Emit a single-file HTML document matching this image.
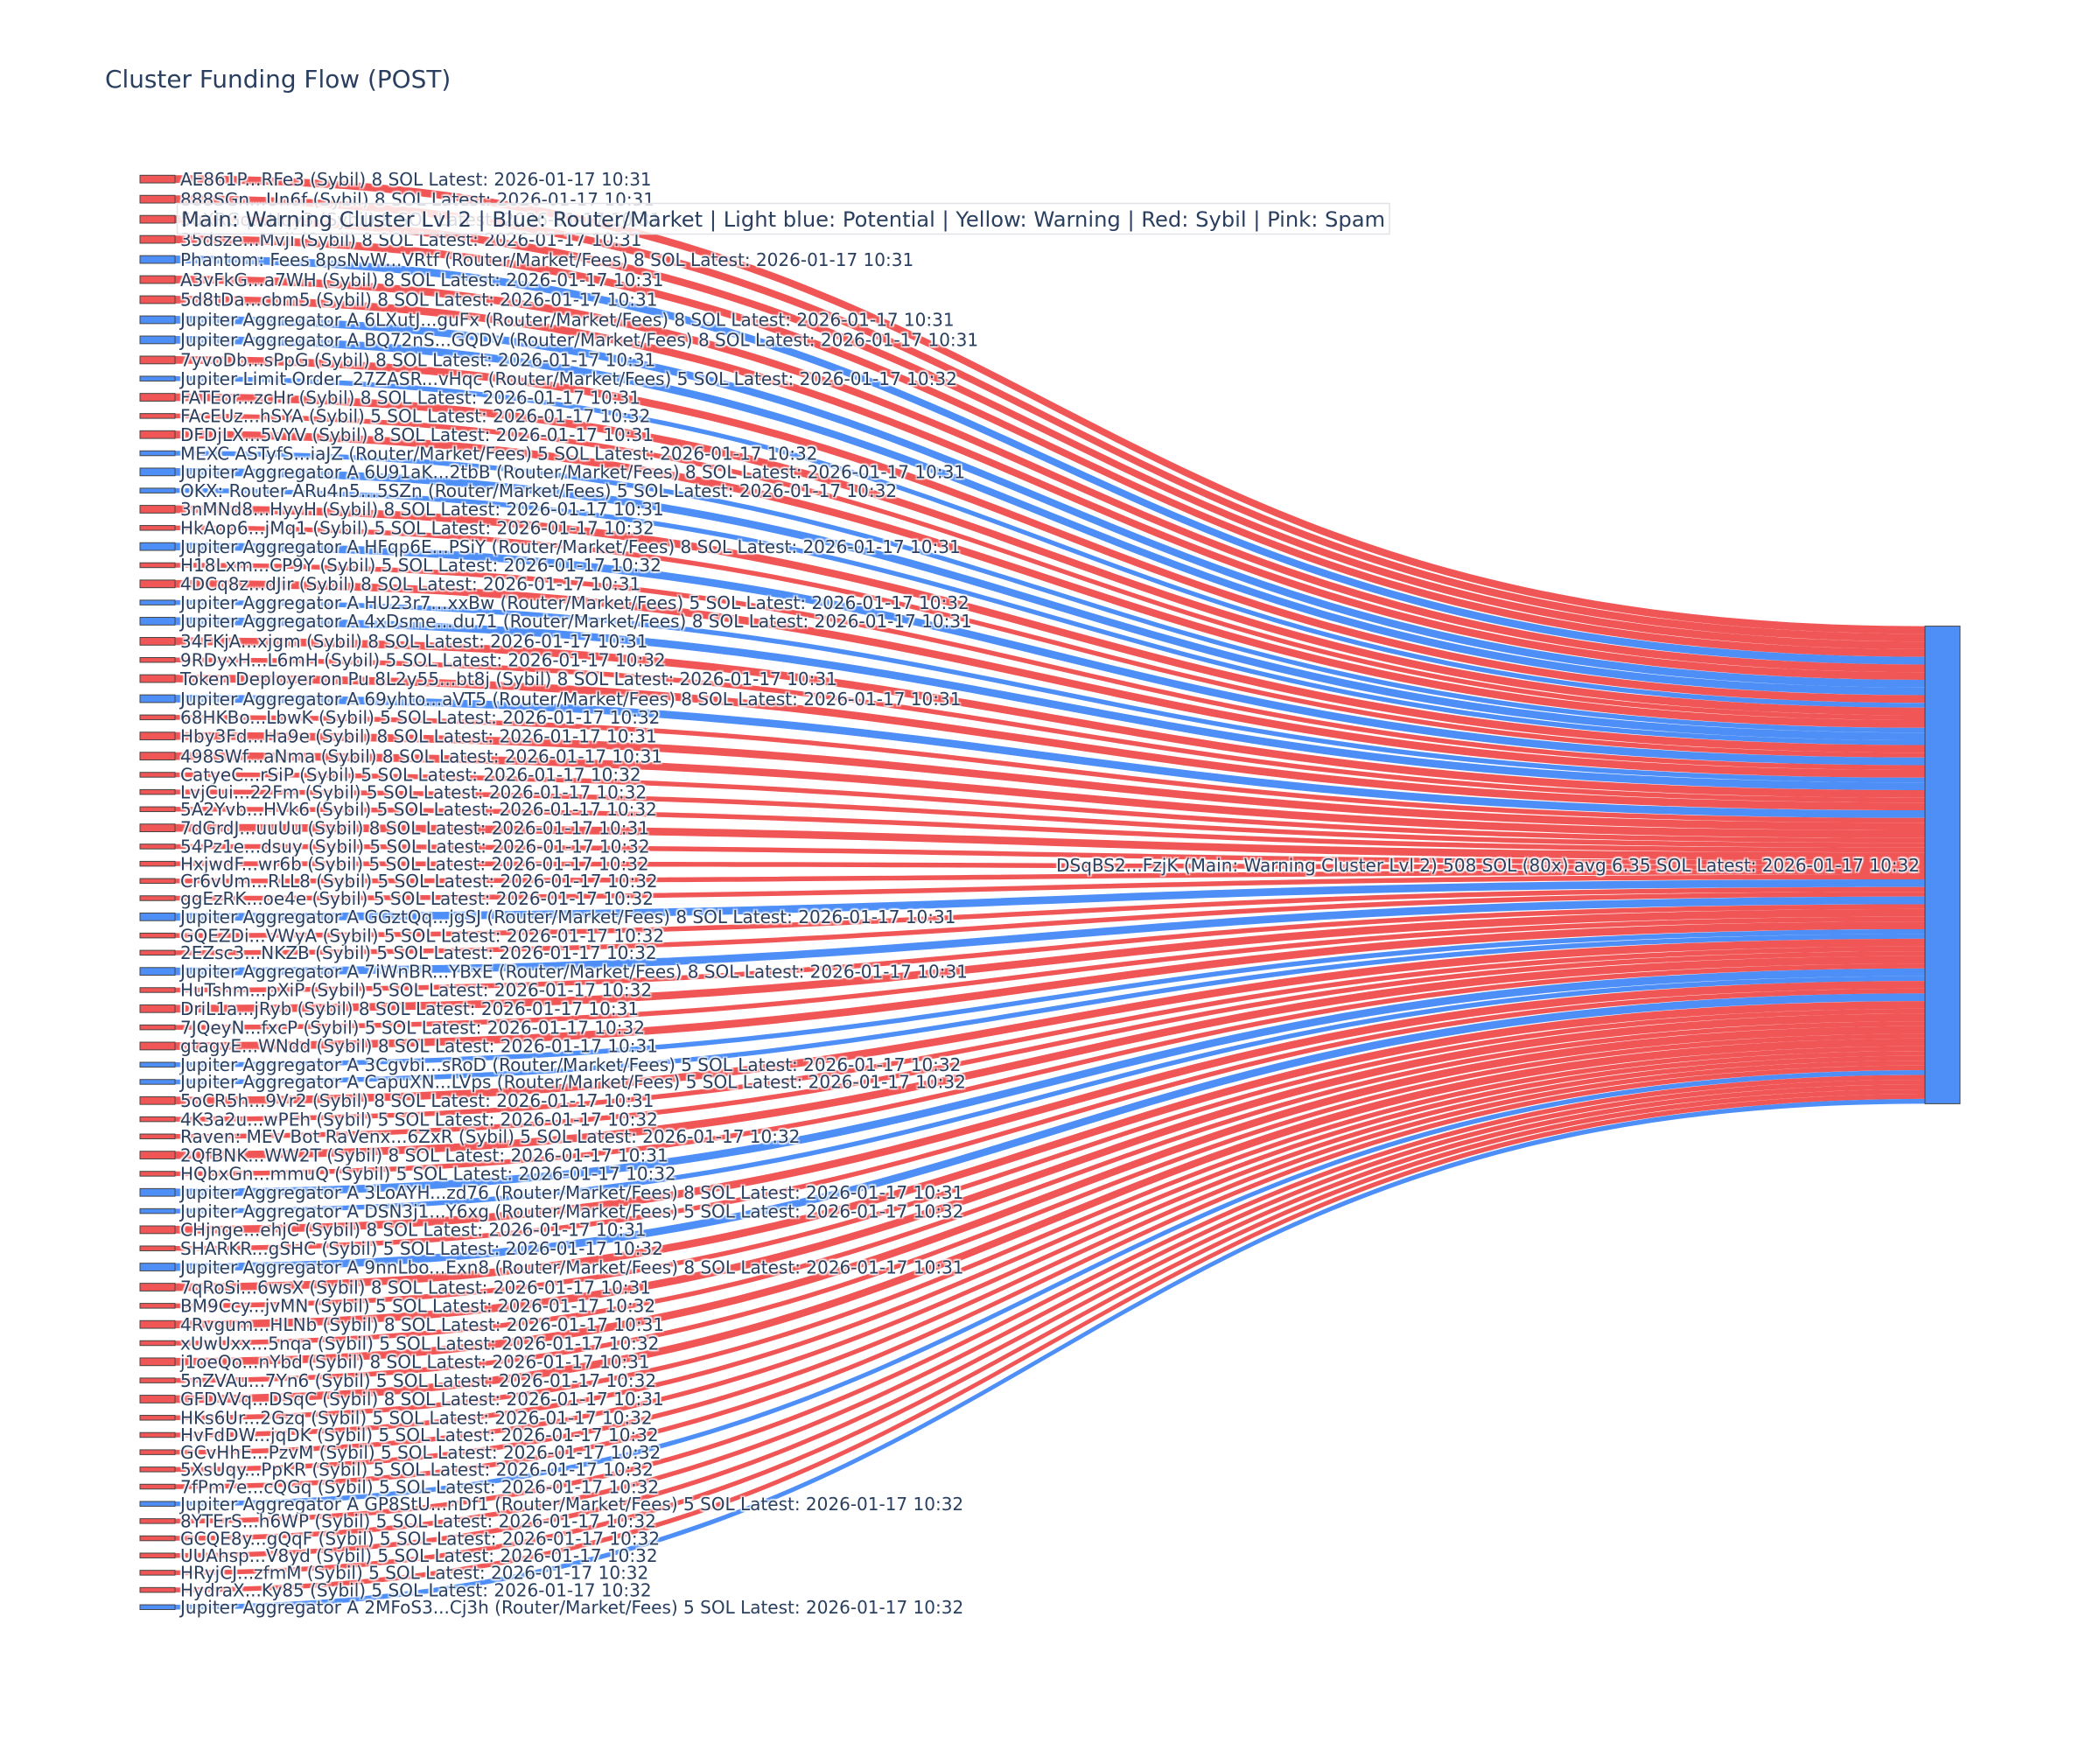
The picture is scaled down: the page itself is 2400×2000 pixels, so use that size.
<!DOCTYPE html>
<html><head><meta charset="utf-8"><style>
html,body{margin:0;padding:0;background:#fff;}
svg{display:block;}
.r{fill:rgba(239,68,68,0.9);}
.b{fill:rgba(59,130,246,0.9);}
.n rect{stroke:#444;stroke-width:1;}
.t{font-family:"DejaVu Sans","Liberation Sans",sans-serif;font-size:20px;fill:#2a3f5f;white-space:pre;text-shadow:1.5px 1.5px 1.5px #fff,-1.5px -1.5px 1.5px #fff,1.5px -1.5px 1.5px #fff,-1.5px 1.5px 1.5px #fff;}
.title{font-family:"DejaVu Sans","Liberation Sans",sans-serif;font-size:27.9px;fill:#2a3f5f;}
.leg{font-family:"DejaVu Sans","Liberation Sans",sans-serif;font-size:24.2px;fill:#2a3f5f;white-space:pre;}
</style></head><body>
<svg width="2400" height="2000" viewBox="0 0 2400 2000" xmlns="http://www.w3.org/2000/svg">
<rect width="2400" height="2000" fill="#fff"/>
<text class="title" x="120" y="100">Cluster Funding Flow (POST)</text>
<g>
<path class="r" d="M200,200.30C1200,200.30 1200,715.60 2200,715.60L2200,724.37C1200,724.37 1200,209.07 200,209.07Z"/>
<path class="r" d="M200,223.27C1200,223.27 1200,724.37 2200,724.37L2200,733.14C1200,733.14 1200,232.04 200,232.04Z"/>
<path class="r" d="M200,246.24C1200,246.24 1200,733.14 2200,733.14L2200,741.90C1200,741.90 1200,255.00 200,255.00Z"/>
<path class="r" d="M200,269.20C1200,269.20 1200,741.90 2200,741.90L2200,750.67C1200,750.67 1200,277.97 200,277.97Z"/>
<path class="b" d="M200,292.17C1200,292.17 1200,750.67 2200,750.67L2200,759.44C1200,759.44 1200,300.94 200,300.94Z"/>
<path class="r" d="M200,315.14C1200,315.14 1200,759.44 2200,759.44L2200,768.21C1200,768.21 1200,323.91 200,323.91Z"/>
<path class="r" d="M200,338.11C1200,338.11 1200,768.21 2200,768.21L2200,776.98C1200,776.98 1200,346.88 200,346.88Z"/>
<path class="b" d="M200,361.08C1200,361.08 1200,776.98 2200,776.98L2200,785.74C1200,785.74 1200,369.84 200,369.84Z"/>
<path class="b" d="M200,384.04C1200,384.04 1200,785.74 2200,785.74L2200,794.51C1200,794.51 1200,392.81 200,392.81Z"/>
<path class="r" d="M200,407.01C1200,407.01 1200,794.51 2200,794.51L2200,803.28C1200,803.28 1200,415.78 200,415.78Z"/>
<path class="b" d="M200,429.98C1200,429.98 1200,803.28 2200,803.28L2200,808.76C1200,808.76 1200,435.46 200,435.46Z"/>
<path class="r" d="M200,449.66C1200,449.66 1200,808.76 2200,808.76L2200,817.53C1200,817.53 1200,458.43 200,458.43Z"/>
<path class="r" d="M200,472.63C1200,472.63 1200,817.53 2200,817.53L2200,823.01C1200,823.01 1200,478.11 200,478.11Z"/>
<path class="r" d="M200,492.31C1200,492.31 1200,823.01 2200,823.01L2200,831.78C1200,831.78 1200,501.08 200,501.08Z"/>
<path class="b" d="M200,515.28C1200,515.28 1200,831.78 2200,831.78L2200,837.26C1200,837.26 1200,520.76 200,520.76Z"/>
<path class="b" d="M200,534.96C1200,534.96 1200,837.26 2200,837.26L2200,846.02C1200,846.02 1200,543.72 200,543.72Z"/>
<path class="b" d="M200,557.92C1200,557.92 1200,846.02 2200,846.02L2200,851.50C1200,851.50 1200,563.40 200,563.40Z"/>
<path class="r" d="M200,577.60C1200,577.60 1200,851.50 2200,851.50L2200,860.27C1200,860.27 1200,586.37 200,586.37Z"/>
<path class="r" d="M200,600.57C1200,600.57 1200,860.27 2200,860.27L2200,865.75C1200,865.75 1200,606.05 200,606.05Z"/>
<path class="b" d="M200,620.25C1200,620.25 1200,865.75 2200,865.75L2200,874.52C1200,874.52 1200,629.02 200,629.02Z"/>
<path class="r" d="M200,643.22C1200,643.22 1200,874.52 2200,874.52L2200,880.00C1200,880.00 1200,648.70 200,648.70Z"/>
<path class="r" d="M200,662.90C1200,662.90 1200,880.00 2200,880.00L2200,888.77C1200,888.77 1200,671.67 200,671.67Z"/>
<path class="b" d="M200,685.87C1200,685.87 1200,888.77 2200,888.77L2200,894.25C1200,894.25 1200,691.35 200,691.35Z"/>
<path class="b" d="M200,705.55C1200,705.55 1200,894.25 2200,894.25L2200,903.02C1200,903.02 1200,714.32 200,714.32Z"/>
<path class="r" d="M200,728.52C1200,728.52 1200,903.02 2200,903.02L2200,911.78C1200,911.78 1200,737.28 200,737.28Z"/>
<path class="r" d="M200,751.48C1200,751.48 1200,911.78 2200,911.78L2200,917.26C1200,917.26 1200,756.96 200,756.96Z"/>
<path class="r" d="M200,771.16C1200,771.16 1200,917.26 2200,917.26L2200,926.03C1200,926.03 1200,779.93 200,779.93Z"/>
<path class="b" d="M200,794.13C1200,794.13 1200,926.03 2200,926.03L2200,934.80C1200,934.80 1200,802.90 200,802.90Z"/>
<path class="r" d="M200,817.10C1200,817.10 1200,934.80 2200,934.80L2200,940.28C1200,940.28 1200,822.58 200,822.58Z"/>
<path class="r" d="M200,836.78C1200,836.78 1200,940.28 2200,940.28L2200,949.05C1200,949.05 1200,845.55 200,845.55Z"/>
<path class="r" d="M200,859.75C1200,859.75 1200,949.05 2200,949.05L2200,957.82C1200,957.82 1200,868.52 200,868.52Z"/>
<path class="r" d="M200,882.72C1200,882.72 1200,957.82 2200,957.82L2200,963.30C1200,963.30 1200,888.20 200,888.20Z"/>
<path class="r" d="M200,902.40C1200,902.40 1200,963.30 2200,963.30L2200,968.78C1200,968.78 1200,907.88 200,907.88Z"/>
<path class="r" d="M200,922.08C1200,922.08 1200,968.78 2200,968.78L2200,974.26C1200,974.26 1200,927.56 200,927.56Z"/>
<path class="r" d="M200,941.76C1200,941.76 1200,974.26 2200,974.26L2200,983.02C1200,983.02 1200,950.52 200,950.52Z"/>
<path class="r" d="M200,964.72C1200,964.72 1200,983.02 2200,983.02L2200,988.50C1200,988.50 1200,970.20 200,970.20Z"/>
<path class="r" d="M200,984.40C1200,984.40 1200,988.50 2200,988.50L2200,993.98C1200,993.98 1200,989.88 200,989.88Z"/>
<path class="r" d="M200,1004.08C1200,1004.08 1200,993.98 2200,993.98L2200,999.46C1200,999.46 1200,1009.56 200,1009.56Z"/>
<path class="r" d="M200,1023.76C1200,1023.76 1200,999.46 2200,999.46L2200,1004.94C1200,1004.94 1200,1029.24 200,1029.24Z"/>
<path class="b" d="M200,1043.44C1200,1043.44 1200,1004.94 2200,1004.94L2200,1013.71C1200,1013.71 1200,1052.21 200,1052.21Z"/>
<path class="r" d="M200,1066.41C1200,1066.41 1200,1013.71 2200,1013.71L2200,1019.19C1200,1019.19 1200,1071.89 200,1071.89Z"/>
<path class="r" d="M200,1086.09C1200,1086.09 1200,1019.19 2200,1019.19L2200,1024.67C1200,1024.67 1200,1091.57 200,1091.57Z"/>
<path class="b" d="M200,1105.77C1200,1105.77 1200,1024.67 2200,1024.67L2200,1033.44C1200,1033.44 1200,1114.54 200,1114.54Z"/>
<path class="r" d="M200,1128.74C1200,1128.74 1200,1033.44 2200,1033.44L2200,1038.92C1200,1038.92 1200,1134.22 200,1134.22Z"/>
<path class="r" d="M200,1148.42C1200,1148.42 1200,1038.92 2200,1038.92L2200,1047.69C1200,1047.69 1200,1157.19 200,1157.19Z"/>
<path class="r" d="M200,1171.39C1200,1171.39 1200,1047.69 2200,1047.69L2200,1053.17C1200,1053.17 1200,1176.87 200,1176.87Z"/>
<path class="r" d="M200,1191.07C1200,1191.07 1200,1053.17 2200,1053.17L2200,1061.94C1200,1061.94 1200,1199.84 200,1199.84Z"/>
<path class="b" d="M200,1214.04C1200,1214.04 1200,1061.94 2200,1061.94L2200,1067.42C1200,1067.42 1200,1219.52 200,1219.52Z"/>
<path class="b" d="M200,1233.72C1200,1233.72 1200,1067.42 2200,1067.42L2200,1072.90C1200,1072.90 1200,1239.20 200,1239.20Z"/>
<path class="r" d="M200,1253.40C1200,1253.40 1200,1072.90 2200,1072.90L2200,1081.66C1200,1081.66 1200,1262.16 200,1262.16Z"/>
<path class="r" d="M200,1276.36C1200,1276.36 1200,1081.66 2200,1081.66L2200,1087.14C1200,1087.14 1200,1281.84 200,1281.84Z"/>
<path class="r" d="M200,1296.04C1200,1296.04 1200,1087.14 2200,1087.14L2200,1092.62C1200,1092.62 1200,1301.52 200,1301.52Z"/>
<path class="r" d="M200,1315.72C1200,1315.72 1200,1092.62 2200,1092.62L2200,1101.39C1200,1101.39 1200,1324.49 200,1324.49Z"/>
<path class="r" d="M200,1338.69C1200,1338.69 1200,1101.39 2200,1101.39L2200,1106.87C1200,1106.87 1200,1344.17 200,1344.17Z"/>
<path class="b" d="M200,1358.37C1200,1358.37 1200,1106.87 2200,1106.87L2200,1115.64C1200,1115.64 1200,1367.14 200,1367.14Z"/>
<path class="b" d="M200,1381.34C1200,1381.34 1200,1115.64 2200,1115.64L2200,1121.12C1200,1121.12 1200,1386.82 200,1386.82Z"/>
<path class="r" d="M200,1401.02C1200,1401.02 1200,1121.12 2200,1121.12L2200,1129.89C1200,1129.89 1200,1409.79 200,1409.79Z"/>
<path class="r" d="M200,1423.99C1200,1423.99 1200,1129.89 2200,1129.89L2200,1135.37C1200,1135.37 1200,1429.47 200,1429.47Z"/>
<path class="b" d="M200,1443.67C1200,1443.67 1200,1135.37 2200,1135.37L2200,1144.14C1200,1144.14 1200,1452.44 200,1452.44Z"/>
<path class="r" d="M200,1466.64C1200,1466.64 1200,1144.14 2200,1144.14L2200,1152.90C1200,1152.90 1200,1475.40 200,1475.40Z"/>
<path class="r" d="M200,1489.60C1200,1489.60 1200,1152.90 2200,1152.90L2200,1158.38C1200,1158.38 1200,1495.08 200,1495.08Z"/>
<path class="r" d="M200,1509.28C1200,1509.28 1200,1158.38 2200,1158.38L2200,1167.15C1200,1167.15 1200,1518.05 200,1518.05Z"/>
<path class="r" d="M200,1532.25C1200,1532.25 1200,1167.15 2200,1167.15L2200,1172.63C1200,1172.63 1200,1537.73 200,1537.73Z"/>
<path class="r" d="M200,1551.93C1200,1551.93 1200,1172.63 2200,1172.63L2200,1181.40C1200,1181.40 1200,1560.70 200,1560.70Z"/>
<path class="r" d="M200,1574.90C1200,1574.90 1200,1181.40 2200,1181.40L2200,1186.88C1200,1186.88 1200,1580.38 200,1580.38Z"/>
<path class="r" d="M200,1594.58C1200,1594.58 1200,1186.88 2200,1186.88L2200,1195.65C1200,1195.65 1200,1603.35 200,1603.35Z"/>
<path class="r" d="M200,1617.55C1200,1617.55 1200,1195.65 2200,1195.65L2200,1201.13C1200,1201.13 1200,1623.03 200,1623.03Z"/>
<path class="r" d="M200,1637.23C1200,1637.23 1200,1201.13 2200,1201.13L2200,1206.61C1200,1206.61 1200,1642.71 200,1642.71Z"/>
<path class="r" d="M200,1656.91C1200,1656.91 1200,1206.61 2200,1206.61L2200,1212.09C1200,1212.09 1200,1662.39 200,1662.39Z"/>
<path class="r" d="M200,1676.59C1200,1676.59 1200,1212.09 2200,1212.09L2200,1217.57C1200,1217.57 1200,1682.07 200,1682.07Z"/>
<path class="r" d="M200,1696.27C1200,1696.27 1200,1217.57 2200,1217.57L2200,1223.05C1200,1223.05 1200,1701.75 200,1701.75Z"/>
<path class="b" d="M200,1715.95C1200,1715.95 1200,1223.05 2200,1223.05L2200,1228.53C1200,1228.53 1200,1721.43 200,1721.43Z"/>
<path class="r" d="M200,1735.63C1200,1735.63 1200,1228.53 2200,1228.53L2200,1234.01C1200,1234.01 1200,1741.11 200,1741.11Z"/>
<path class="r" d="M200,1755.31C1200,1755.31 1200,1234.01 2200,1234.01L2200,1239.49C1200,1239.49 1200,1760.79 200,1760.79Z"/>
<path class="r" d="M200,1774.99C1200,1774.99 1200,1239.49 2200,1239.49L2200,1244.97C1200,1244.97 1200,1780.47 200,1780.47Z"/>
<path class="r" d="M200,1794.67C1200,1794.67 1200,1244.97 2200,1244.97L2200,1250.45C1200,1250.45 1200,1800.15 200,1800.15Z"/>
<path class="r" d="M200,1814.35C1200,1814.35 1200,1250.45 2200,1250.45L2200,1255.93C1200,1255.93 1200,1819.83 200,1819.83Z"/>
<path class="b" d="M200,1834.03C1200,1834.03 1200,1255.93 2200,1255.93L2200,1261.41C1200,1261.41 1200,1839.51 200,1839.51Z"/>
</g>
<g class="n">
<rect class="r" x="160" y="200.30" width="40" height="8.77"/>
<rect class="r" x="160" y="223.27" width="40" height="8.77"/>
<rect class="r" x="160" y="246.24" width="40" height="8.77"/>
<rect class="r" x="160" y="269.20" width="40" height="8.77"/>
<rect class="b" x="160" y="292.17" width="40" height="8.77"/>
<rect class="r" x="160" y="315.14" width="40" height="8.77"/>
<rect class="r" x="160" y="338.11" width="40" height="8.77"/>
<rect class="b" x="160" y="361.08" width="40" height="8.77"/>
<rect class="b" x="160" y="384.04" width="40" height="8.77"/>
<rect class="r" x="160" y="407.01" width="40" height="8.77"/>
<rect class="b" x="160" y="429.98" width="40" height="5.48"/>
<rect class="r" x="160" y="449.66" width="40" height="8.77"/>
<rect class="r" x="160" y="472.63" width="40" height="5.48"/>
<rect class="r" x="160" y="492.31" width="40" height="8.77"/>
<rect class="b" x="160" y="515.28" width="40" height="5.48"/>
<rect class="b" x="160" y="534.96" width="40" height="8.77"/>
<rect class="b" x="160" y="557.92" width="40" height="5.48"/>
<rect class="r" x="160" y="577.60" width="40" height="8.77"/>
<rect class="r" x="160" y="600.57" width="40" height="5.48"/>
<rect class="b" x="160" y="620.25" width="40" height="8.77"/>
<rect class="r" x="160" y="643.22" width="40" height="5.48"/>
<rect class="r" x="160" y="662.90" width="40" height="8.77"/>
<rect class="b" x="160" y="685.87" width="40" height="5.48"/>
<rect class="b" x="160" y="705.55" width="40" height="8.77"/>
<rect class="r" x="160" y="728.52" width="40" height="8.77"/>
<rect class="r" x="160" y="751.48" width="40" height="5.48"/>
<rect class="r" x="160" y="771.16" width="40" height="8.77"/>
<rect class="b" x="160" y="794.13" width="40" height="8.77"/>
<rect class="r" x="160" y="817.10" width="40" height="5.48"/>
<rect class="r" x="160" y="836.78" width="40" height="8.77"/>
<rect class="r" x="160" y="859.75" width="40" height="8.77"/>
<rect class="r" x="160" y="882.72" width="40" height="5.48"/>
<rect class="r" x="160" y="902.40" width="40" height="5.48"/>
<rect class="r" x="160" y="922.08" width="40" height="5.48"/>
<rect class="r" x="160" y="941.76" width="40" height="8.77"/>
<rect class="r" x="160" y="964.72" width="40" height="5.48"/>
<rect class="r" x="160" y="984.40" width="40" height="5.48"/>
<rect class="r" x="160" y="1004.08" width="40" height="5.48"/>
<rect class="r" x="160" y="1023.76" width="40" height="5.48"/>
<rect class="b" x="160" y="1043.44" width="40" height="8.77"/>
<rect class="r" x="160" y="1066.41" width="40" height="5.48"/>
<rect class="r" x="160" y="1086.09" width="40" height="5.48"/>
<rect class="b" x="160" y="1105.77" width="40" height="8.77"/>
<rect class="r" x="160" y="1128.74" width="40" height="5.48"/>
<rect class="r" x="160" y="1148.42" width="40" height="8.77"/>
<rect class="r" x="160" y="1171.39" width="40" height="5.48"/>
<rect class="r" x="160" y="1191.07" width="40" height="8.77"/>
<rect class="b" x="160" y="1214.04" width="40" height="5.48"/>
<rect class="b" x="160" y="1233.72" width="40" height="5.48"/>
<rect class="r" x="160" y="1253.40" width="40" height="8.77"/>
<rect class="r" x="160" y="1276.36" width="40" height="5.48"/>
<rect class="r" x="160" y="1296.04" width="40" height="5.48"/>
<rect class="r" x="160" y="1315.72" width="40" height="8.77"/>
<rect class="r" x="160" y="1338.69" width="40" height="5.48"/>
<rect class="b" x="160" y="1358.37" width="40" height="8.77"/>
<rect class="b" x="160" y="1381.34" width="40" height="5.48"/>
<rect class="r" x="160" y="1401.02" width="40" height="8.77"/>
<rect class="r" x="160" y="1423.99" width="40" height="5.48"/>
<rect class="b" x="160" y="1443.67" width="40" height="8.77"/>
<rect class="r" x="160" y="1466.64" width="40" height="8.77"/>
<rect class="r" x="160" y="1489.60" width="40" height="5.48"/>
<rect class="r" x="160" y="1509.28" width="40" height="8.77"/>
<rect class="r" x="160" y="1532.25" width="40" height="5.48"/>
<rect class="r" x="160" y="1551.93" width="40" height="8.77"/>
<rect class="r" x="160" y="1574.90" width="40" height="5.48"/>
<rect class="r" x="160" y="1594.58" width="40" height="8.77"/>
<rect class="r" x="160" y="1617.55" width="40" height="5.48"/>
<rect class="r" x="160" y="1637.23" width="40" height="5.48"/>
<rect class="r" x="160" y="1656.91" width="40" height="5.48"/>
<rect class="r" x="160" y="1676.59" width="40" height="5.48"/>
<rect class="r" x="160" y="1696.27" width="40" height="5.48"/>
<rect class="b" x="160" y="1715.95" width="40" height="5.48"/>
<rect class="r" x="160" y="1735.63" width="40" height="5.48"/>
<rect class="r" x="160" y="1755.31" width="40" height="5.48"/>
<rect class="r" x="160" y="1774.99" width="40" height="5.48"/>
<rect class="r" x="160" y="1794.67" width="40" height="5.48"/>
<rect class="r" x="160" y="1814.35" width="40" height="5.48"/>
<rect class="b" x="160" y="1834.03" width="40" height="5.48"/>
<rect class="b" x="2200" y="715.60" width="40" height="545.81"/>
</g>
<g>
<text class="t" x="206" y="211.93">AE861P...RFe3 (Sybil) 8 SOL Latest: 2026-01-17 10:31</text>
<text class="t" x="206" y="234.90">888SGn...Un6f (Sybil) 8 SOL Latest: 2026-01-17 10:31</text>
<text class="t" x="206" y="257.87">5uXRGq...Hqy3 (Sybil) 8 SOL Latest: 2026-01-17 10:31</text>
<text class="t" x="206" y="280.83">35dsze...Mvji (Sybil) 8 SOL Latest: 2026-01-17 10:31</text>
<text class="t" x="206" y="303.80">Phantom: Fees 8psNvW...VRtf (Router/Market/Fees) 8 SOL Latest: 2026-01-17 10:31</text>
<text class="t" x="206" y="326.77">A3vFkG...a7WH (Sybil) 8 SOL Latest: 2026-01-17 10:31</text>
<text class="t" x="206" y="349.74">5d8tDa...cbm5 (Sybil) 8 SOL Latest: 2026-01-17 10:31</text>
<text class="t" x="206" y="372.71">Jupiter Aggregator A 6LXutJ...guFx (Router/Market/Fees) 8 SOL Latest: 2026-01-17 10:31</text>
<text class="t" x="206" y="395.67">Jupiter Aggregator A BQ72nS...GQDV (Router/Market/Fees) 8 SOL Latest: 2026-01-17 10:31</text>
<text class="t" x="206" y="418.64">7yvoDb...sPpG (Sybil) 8 SOL Latest: 2026-01-17 10:31</text>
<text class="t" x="206" y="439.98">Jupiter Limit Order  27ZASR...vHqc (Router/Market/Fees) 5 SOL Latest: 2026-01-17 10:32</text>
<text class="t" x="206" y="461.29">FATEor...zcHr (Sybil) 8 SOL Latest: 2026-01-17 10:31</text>
<text class="t" x="206" y="482.63">FAcEUz...hSYA (Sybil) 5 SOL Latest: 2026-01-17 10:32</text>
<text class="t" x="206" y="503.94">DFDjLX...5VYV (Sybil) 8 SOL Latest: 2026-01-17 10:31</text>
<text class="t" x="206" y="525.28">MEXC ASTyfS...iaJZ (Router/Market/Fees) 5 SOL Latest: 2026-01-17 10:32</text>
<text class="t" x="206" y="546.59">Jupiter Aggregator A 6U91aK...2tbB (Router/Market/Fees) 8 SOL Latest: 2026-01-17 10:31</text>
<text class="t" x="206" y="567.92">OKX: Router ARu4n5...5SZn (Router/Market/Fees) 5 SOL Latest: 2026-01-17 10:32</text>
<text class="t" x="206" y="589.23">3nMNd8...HyyH (Sybil) 8 SOL Latest: 2026-01-17 10:31</text>
<text class="t" x="206" y="610.57">HkAop6...jMq1 (Sybil) 5 SOL Latest: 2026-01-17 10:32</text>
<text class="t" x="206" y="631.88">Jupiter Aggregator A HFqp6E...PSiY (Router/Market/Fees) 8 SOL Latest: 2026-01-17 10:31</text>
<text class="t" x="206" y="653.22">H18Lxm...CP9Y (Sybil) 5 SOL Latest: 2026-01-17 10:32</text>
<text class="t" x="206" y="674.53">4DCq8z...dJir (Sybil) 8 SOL Latest: 2026-01-17 10:31</text>
<text class="t" x="206" y="695.87">Jupiter Aggregator A HU23r7...xxBw (Router/Market/Fees) 5 SOL Latest: 2026-01-17 10:32</text>
<text class="t" x="206" y="717.18">Jupiter Aggregator A 4xDsme...du71 (Router/Market/Fees) 8 SOL Latest: 2026-01-17 10:31</text>
<text class="t" x="206" y="740.15">34FKjA...xjgm (Sybil) 8 SOL Latest: 2026-01-17 10:31</text>
<text class="t" x="206" y="761.48">9RDyxH...L6mH (Sybil) 5 SOL Latest: 2026-01-17 10:32</text>
<text class="t" x="206" y="782.79">Token Deployer on Pu 8L2y55...bt8j (Sybil) 8 SOL Latest: 2026-01-17 10:31</text>
<text class="t" x="206" y="805.76">Jupiter Aggregator A 69yhto...aVT5 (Router/Market/Fees) 8 SOL Latest: 2026-01-17 10:31</text>
<text class="t" x="206" y="827.10">68HKBo...LbwK (Sybil) 5 SOL Latest: 2026-01-17 10:32</text>
<text class="t" x="206" y="848.41">Hby3Fd...Ha9e (Sybil) 8 SOL Latest: 2026-01-17 10:31</text>
<text class="t" x="206" y="871.38">498SWf...aNma (Sybil) 8 SOL Latest: 2026-01-17 10:31</text>
<text class="t" x="206" y="892.72">CatyeC...rSiP (Sybil) 5 SOL Latest: 2026-01-17 10:32</text>
<text class="t" x="206" y="912.40">LvjCui...22Fm (Sybil) 5 SOL Latest: 2026-01-17 10:32</text>
<text class="t" x="206" y="932.08">5A2Yvb...HVk6 (Sybil) 5 SOL Latest: 2026-01-17 10:32</text>
<text class="t" x="206" y="953.39">7dGrdJ...uuUu (Sybil) 8 SOL Latest: 2026-01-17 10:31</text>
<text class="t" x="206" y="974.72">54Pz1e...dsuy (Sybil) 5 SOL Latest: 2026-01-17 10:32</text>
<text class="t" x="206" y="994.40">HxjwdF...wr6b (Sybil) 5 SOL Latest: 2026-01-17 10:32</text>
<text class="t" x="206" y="1014.08">Cr6vUm...RLL8 (Sybil) 5 SOL Latest: 2026-01-17 10:32</text>
<text class="t" x="206" y="1033.76">ggEzRK...oe4e (Sybil) 5 SOL Latest: 2026-01-17 10:32</text>
<text class="t" x="206" y="1055.07">Jupiter Aggregator A GGztQq...jgSJ (Router/Market/Fees) 8 SOL Latest: 2026-01-17 10:31</text>
<text class="t" x="206" y="1076.41">GQEZDi...VWyA (Sybil) 5 SOL Latest: 2026-01-17 10:32</text>
<text class="t" x="206" y="1096.09">2EZsc3...NKZB (Sybil) 5 SOL Latest: 2026-01-17 10:32</text>
<text class="t" x="206" y="1117.40">Jupiter Aggregator A 7iWnBR...YBxE (Router/Market/Fees) 8 SOL Latest: 2026-01-17 10:31</text>
<text class="t" x="206" y="1138.74">HuTshm...pXiP (Sybil) 5 SOL Latest: 2026-01-17 10:32</text>
<text class="t" x="206" y="1160.05">DriL1a...jRyb (Sybil) 8 SOL Latest: 2026-01-17 10:31</text>
<text class="t" x="206" y="1181.39">7JQeyN...fxcP (Sybil) 5 SOL Latest: 2026-01-17 10:32</text>
<text class="t" x="206" y="1202.70">gtagyE...WNdd (Sybil) 8 SOL Latest: 2026-01-17 10:31</text>
<text class="t" x="206" y="1224.04">Jupiter Aggregator A 3Cgvbi...sRoD (Router/Market/Fees) 5 SOL Latest: 2026-01-17 10:32</text>
<text class="t" x="206" y="1243.72">Jupiter Aggregator A CapuXN...LVps (Router/Market/Fees) 5 SOL Latest: 2026-01-17 10:32</text>
<text class="t" x="206" y="1265.03">5oCR5h...9Vr2 (Sybil) 8 SOL Latest: 2026-01-17 10:31</text>
<text class="t" x="206" y="1286.36">4K3a2u...wPEh (Sybil) 5 SOL Latest: 2026-01-17 10:32</text>
<text class="t" x="206" y="1306.04">Raven: MEV Bot RaVenx...6ZxR (Sybil) 5 SOL Latest: 2026-01-17 10:32</text>
<text class="t" x="206" y="1327.35">2QfBNK...WW2T (Sybil) 8 SOL Latest: 2026-01-17 10:31</text>
<text class="t" x="206" y="1348.69">HQbxGn...mmuQ (Sybil) 5 SOL Latest: 2026-01-17 10:32</text>
<text class="t" x="206" y="1370.00">Jupiter Aggregator A 3LoAYH...zd76 (Router/Market/Fees) 8 SOL Latest: 2026-01-17 10:31</text>
<text class="t" x="206" y="1391.34">Jupiter Aggregator A DSN3j1...Y6xg (Router/Market/Fees) 5 SOL Latest: 2026-01-17 10:32</text>
<text class="t" x="206" y="1412.65">CHjnge...ehjC (Sybil) 8 SOL Latest: 2026-01-17 10:31</text>
<text class="t" x="206" y="1433.99">SHARKR...gSHC (Sybil) 5 SOL Latest: 2026-01-17 10:32</text>
<text class="t" x="206" y="1455.30">Jupiter Aggregator A 9nnLbo...Exn8 (Router/Market/Fees) 8 SOL Latest: 2026-01-17 10:31</text>
<text class="t" x="206" y="1478.27">7qRoSi...6wsX (Sybil) 8 SOL Latest: 2026-01-17 10:31</text>
<text class="t" x="206" y="1499.60">BM9Ccy...jvMN (Sybil) 5 SOL Latest: 2026-01-17 10:32</text>
<text class="t" x="206" y="1520.91">4Rvgum...HLNb (Sybil) 8 SOL Latest: 2026-01-17 10:31</text>
<text class="t" x="206" y="1542.25">xUwUxx...5nqa (Sybil) 5 SOL Latest: 2026-01-17 10:32</text>
<text class="t" x="206" y="1563.56">j1oeQo...nYbd (Sybil) 8 SOL Latest: 2026-01-17 10:31</text>
<text class="t" x="206" y="1584.90">5nZVAu...7Yn6 (Sybil) 5 SOL Latest: 2026-01-17 10:32</text>
<text class="t" x="206" y="1606.21">GFDVVq...DSqC (Sybil) 8 SOL Latest: 2026-01-17 10:31</text>
<text class="t" x="206" y="1627.55">HKs6Ur...2Gzq (Sybil) 5 SOL Latest: 2026-01-17 10:32</text>
<text class="t" x="206" y="1647.23">HvFdDW...jqDK (Sybil) 5 SOL Latest: 2026-01-17 10:32</text>
<text class="t" x="206" y="1666.91">GCvHhE...PzvM (Sybil) 5 SOL Latest: 2026-01-17 10:32</text>
<text class="t" x="206" y="1686.59">5XsUqy...PpKR (Sybil) 5 SOL Latest: 2026-01-17 10:32</text>
<text class="t" x="206" y="1706.27">7fPm7e...cQGq (Sybil) 5 SOL Latest: 2026-01-17 10:32</text>
<text class="t" x="206" y="1725.95">Jupiter Aggregator A GP8StU...nDf1 (Router/Market/Fees) 5 SOL Latest: 2026-01-17 10:32</text>
<text class="t" x="206" y="1745.63">8YTErS...h6WP (Sybil) 5 SOL Latest: 2026-01-17 10:32</text>
<text class="t" x="206" y="1765.31">GCQE8y...gQqF (Sybil) 5 SOL Latest: 2026-01-17 10:32</text>
<text class="t" x="206" y="1784.99">UUAhsp...V8yd (Sybil) 5 SOL Latest: 2026-01-17 10:32</text>
<text class="t" x="206" y="1804.67">HRyjCJ...zfmM (Sybil) 5 SOL Latest: 2026-01-17 10:32</text>
<text class="t" x="206" y="1824.35">HydraX...Ky85 (Sybil) 5 SOL Latest: 2026-01-17 10:32</text>
<text class="t" x="206" y="1844.03">Jupiter Aggregator A 2MFoS3...Cj3h (Router/Market/Fees) 5 SOL Latest: 2026-01-17 10:32</text>
<text class="t" x="2194" y="995.75" text-anchor="end">DSqBS2...FzjK (Main: Warning Cluster Lvl 2) 508 SOL (80x) avg 6.35 SOL Latest: 2026-01-17 10:32</text>
</g>
<rect x="202.5" y="232.5" width="1385.5" height="35" fill="rgba(255,255,255,0.82)" stroke="#e2e2e8" stroke-width="1.5"/>
<text class="leg" x="207" y="258.8">Main: Warning Cluster Lvl 2 | Blue: Router/Market | Light blue: Potential | Yellow: Warning | Red: Sybil | Pink: Spam</text>
</svg>
</body></html>
